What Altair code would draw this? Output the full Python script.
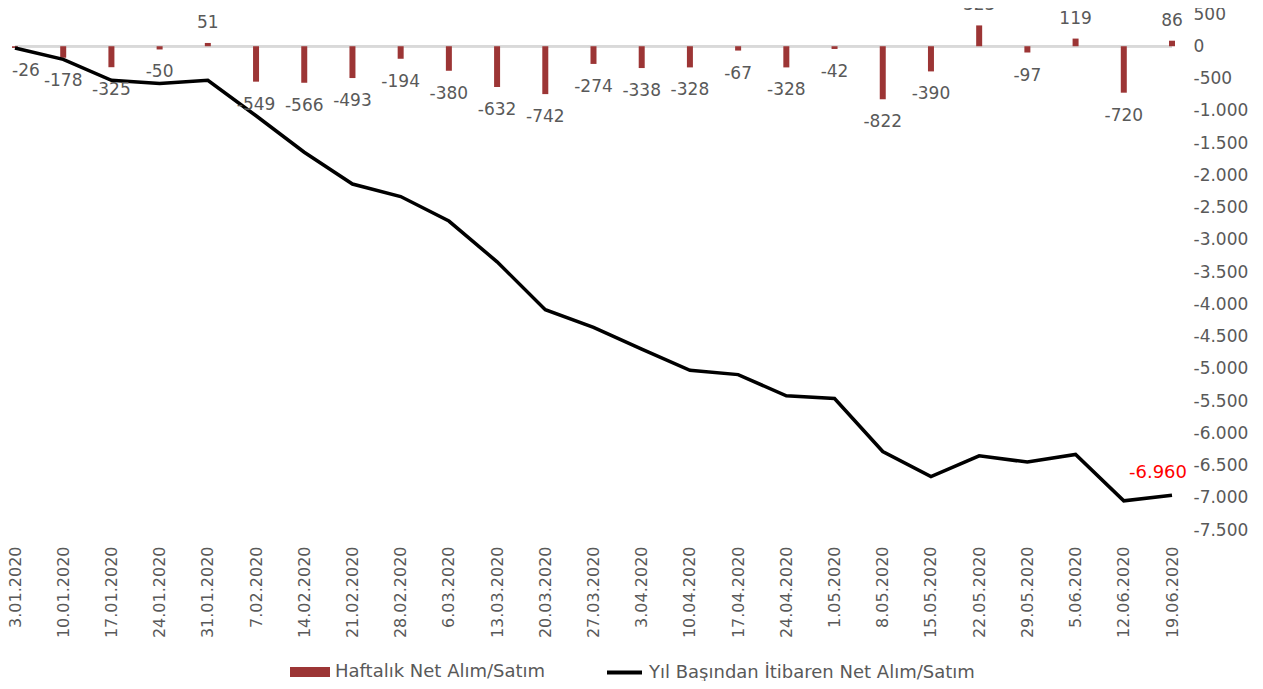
import altair as alt
import pandas as pd

dates = ["3.01.2020", "10.01.2020", "17.01.2020", "24.01.2020", "31.01.2020",
         "7.02.2020", "14.02.2020", "21.02.2020", "28.02.2020", "6.03.2020",
         "13.03.2020", "20.03.2020", "27.03.2020", "3.04.2020", "10.04.2020",
         "17.04.2020", "24.04.2020", "1.05.2020", "8.05.2020", "15.05.2020",
         "22.05.2020", "29.05.2020", "5.06.2020", "12.06.2020", "19.06.2020"]
weekly = [-26, -178, -325, -50, 51, -549, -566, -493, -194, -380, -632, -742, -274,
          -338, -328, -67, -328, -42, -822, -390, 323, -97, 119, -720, 86]
cumulative = [-26, -204, -529, -579, -528, -1077, -1643, -2136, -2330, -2710, -3342,
              -4084, -4358, -4696, -5024, -5091, -5419, -5461, -6283, -6673, -6350,
              -6447, -6328, -7048, -6960]
y_ticks = list(range(-7500, 501, 500))

S1 = "Haftalık Net Alım/Satım"
S2 = "Yıl Başından İtibaren Net Alım/Satım"

n = len(dates)
df = pd.DataFrame({"date": dates, "w": weekly, "c": cumulative,
                   "idx": list(range(n))})

FONT = "DejaVu Sans"
GRAY = "#595959"
BAR = "#9C3535"

xenc = alt.X("date:N", sort=None,
             scale=alt.Scale(type="point", padding=0),
             axis=alt.Axis(title=None, labelAngle=270, labelPadding=16, domain=False,
                           ticks=False, grid=False, labelFont=FONT, labelFontSize=16,
                           labelColor=GRAY, labelOverlap=False))
yscale = alt.Scale(domain=[-7500, 500], nice=False, zero=False)
yaxis = alt.Axis(orient="right", values=y_ticks, format=",d", title=None,
                 domain=False, ticks=False, grid=False, labelPadding=21,
                 labelFont=FONT, labelFontSize=17, labelColor=GRAY,
                 labelOverlap=False)


def yenc(field):
    return alt.Y(field, scale=yscale, axis=yaxis)


base = alt.Chart(df)

zero = base.mark_rule(color="#d9d9d9", strokeWidth=2).encode(
    y=alt.datum(0, scale=yscale, type="quantitative", axis=yaxis)
)

bars = base.transform_calculate(s1=f"'{S1}'").mark_bar(size=6).encode(
    x=xenc,
    y=yenc("w:Q"),
    fill=alt.Fill("s1:N", scale=alt.Scale(domain=[S1], range=[BAR]),
                  legend=alt.Legend(title=None, orient="none", legendX=275, legendY=638,
                                    symbolType="M-1,-0.25H1V0.25H-1Z", symbolSize=1600,
                                    symbolStrokeWidth=0, labelOffset=5, labelLimit=600,
                                    labelFont=FONT, labelFontSize=18, labelColor=GRAY,
                                    padding=0)),
)

line = base.transform_calculate(s2=f"'{S2}'").mark_line(strokeWidth=3.5).encode(
    x=xenc,
    y=yenc("c:Q"),
    stroke=alt.Stroke("s2:N", scale=alt.Scale(domain=[S2], range=["#000000"]),
                      legend=alt.Legend(title=None, orient="none", legendX=590, legendY=639,
                                        symbolType="stroke", symbolSize=1225,
                                        symbolStrokeWidth=4, labelOffset=5, labelLimit=600,
                                        labelFont=FONT, labelFontSize=18, labelColor=GRAY,
                                        padding=0)),
)

first_label = base.transform_filter("datum.idx == 0").mark_text(
    dx=11, dy=23, baseline="middle", font=FONT, fontSize=17, color=GRAY
).encode(x=xenc, y=yenc("w:Q"), text=alt.Text("w:Q", format="d"))

neg_labels = base.transform_filter("datum.w < 0 && datum.idx > 0").mark_text(
    dy=23, baseline="middle", font=FONT, fontSize=17, color=GRAY
).encode(x=xenc, y=yenc("w:Q"), text=alt.Text("w:Q", format="d"))

pos_labels = base.transform_filter("datum.w >= 0").mark_text(
    dy=-20, baseline="middle", font=FONT, fontSize=17, color=GRAY
).encode(x=xenc, y=yenc("w:Q"), text=alt.Text("w:Q", format="d"))

last_label = base.transform_filter(f"datum.idx == {n - 1}").mark_text(
    dx=-14, dy=-22, baseline="middle", font=FONT, fontSize=18, color="#FF0000"
).encode(x=xenc, y=yenc("c:Q"), text=alt.Text("c:Q", format=",d"))

chart = alt.layer(zero, bars, line, first_label, neg_labels, pos_labels, last_label).properties(
    width=1157, height=516,
    autosize=alt.AutoSizeParams(type="none"),
    padding={"left": 7, "top": 6, "right": 83, "bottom": 151},
).configure(
    locale={"number": {"decimal": ",", "thousands": ".", "grouping": [3],
                       "currency": ["", " TL"], "minus": "-"}},
    view=alt.ViewConfig(strokeWidth=0, stroke="transparent"),
)

chart.save("out.html", embed_options={"renderer": "svg", "actions": False})
